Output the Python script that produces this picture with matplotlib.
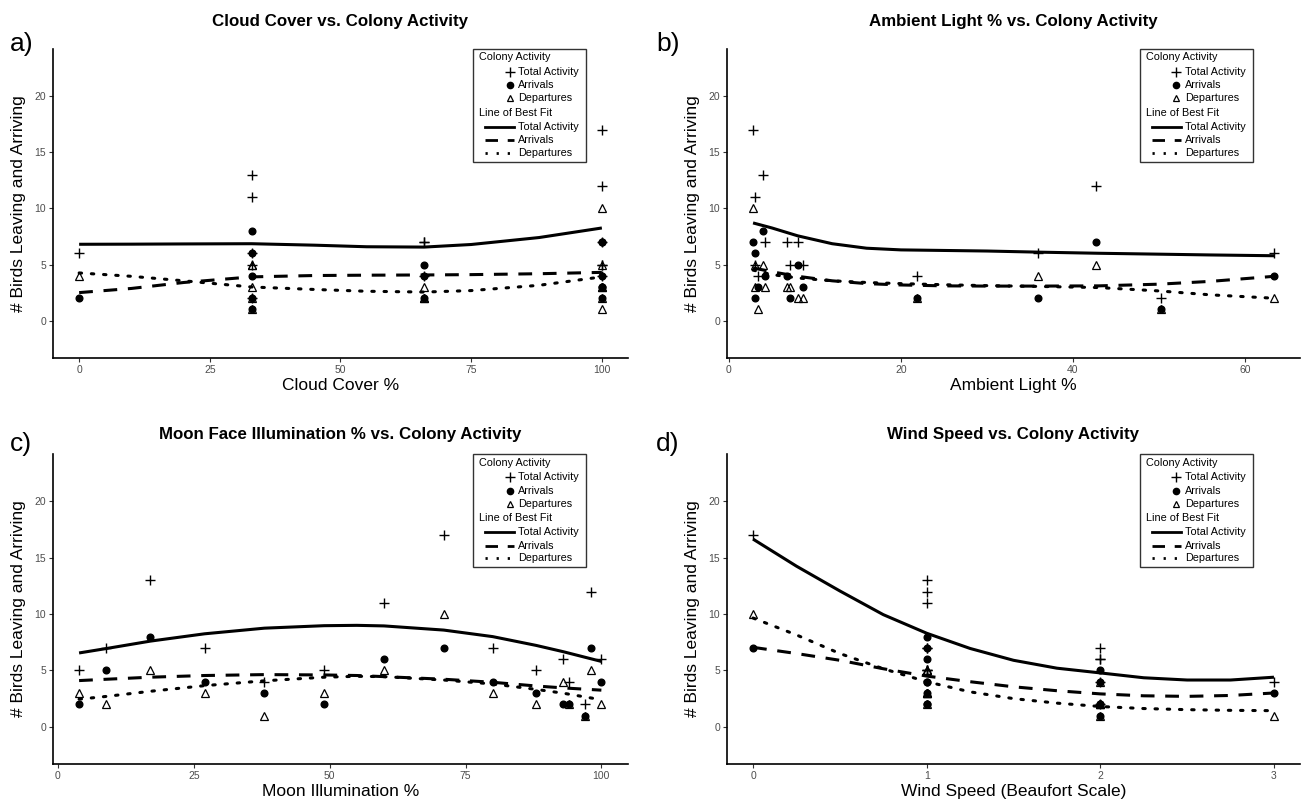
import numpy as np
import matplotlib
matplotlib.use("Agg")
import matplotlib.pyplot as plt
from matplotlib.lines import Line2D
from matplotlib.patches import Rectangle

plt.rcParams['font.family'] = ['Liberation Sans', 'DejaVu Sans']

# one entry per night of observation
moon = [3.9, 8.9, 16.9, 27.0, 38.0, 49.0, 60.0, 71.0, 80.0, 88.0, 93.0, 94.1, 97.0, 98.0, 100.0]
light = [3.0, 8.0, 4.0, 4.2, 3.35, 7.1, 3.0, 2.8, 6.8, 8.55, 35.9, 21.9, 50.2, 42.7, 63.4]
cloud = [33, 66, 33, 66, 100, 100, 33, 100, 100, 100, 0, 66, 33, 100, 33]
wind = [1, 2, 1, 1, 3, 1, 1, 0, 1, 1, 2, 2, 2, 1, 2]
total = [5, 7, 13, 7, 4, 5, 11, 17, 7, 5, 6, 4, 2, 12, 6]
arrivals = [2, 5, 8, 4, 3, 2, 6, 7, 4, 3, 2, 2, 1, 7, 4]
departures = [3, 2, 5, 3, 1, 3, 5, 10, 3, 2, 4, 2, 1, 5, 2]

# lines of best fit
a_fit_x = [0, 10, 20, 33, 45, 55, 66, 75, 88, 100]
a_fit_total = [6.80, 6.81, 6.83, 6.85, 6.72, 6.58, 6.55, 6.78, 7.40, 8.25]
a_fit_arr = [2.50, 2.87, 3.40, 3.90, 4.02, 4.05, 4.07, 4.10, 4.18, 4.30]
a_fit_dep = [4.25, 3.95, 3.55, 3.00, 2.78, 2.62, 2.55, 2.68, 3.15, 3.90]

b_fit_x = [2.8, 5, 8, 12, 16, 20, 25, 30, 36, 43, 50, 56, 63.4]
b_fit_total = [8.70, 8.25, 7.55, 6.85, 6.45, 6.30, 6.25, 6.20, 6.10, 6.00, 5.92, 5.85, 5.78]
b_fit_arr = [4.70, 4.35, 3.95, 3.55, 3.30, 3.18, 3.10, 3.08, 3.08, 3.10, 3.25, 3.50, 3.95]
b_fit_dep = [4.50, 4.10, 3.80, 3.55, 3.40, 3.30, 3.20, 3.12, 3.05, 2.95, 2.65, 2.30, 2.00]

c_fit_x = [3.9, 9, 17, 27, 38, 49, 55, 60, 71, 80, 88, 93, 100]
c_fit_total = [6.55, 6.95, 7.60, 8.25, 8.75, 8.97, 9.00, 8.95, 8.58, 8.00, 7.22, 6.66, 5.80]
c_fit_arr = [4.10, 4.22, 4.40, 4.55, 4.63, 4.60, 4.55, 4.45, 4.22, 3.95, 3.62, 3.45, 3.25]
c_fit_dep = [2.45, 2.70, 3.15, 3.65, 4.08, 4.40, 4.48, 4.45, 4.15, 3.80, 3.32, 2.98, 2.40]

d_fit_x = [0, 0.25, 0.5, 0.75, 1, 1.25, 1.5, 1.75, 2, 2.25, 2.5, 2.75, 3]
d_fit_total = [16.65, 14.25, 12.05, 9.95, 8.30, 6.95, 5.90, 5.20, 4.78, 4.35, 4.15, 4.15, 4.40]
d_fit_arr = [7.05, 6.50, 5.90, 5.15, 4.50, 4.00, 3.55, 3.20, 2.92, 2.75, 2.70, 2.78, 3.00]
d_fit_dep = [9.65, 8.15, 6.50, 5.15, 4.00, 3.10, 2.50, 2.10, 1.80, 1.62, 1.52, 1.46, 1.43]

W, H = 1301, 800
fig = plt.figure(figsize=(W / 100, H / 100), dpi=100)

DASH = (0, (4.5, 3.5))
DOT = (0, (0.8, 3.2))
GREY = '#4D4D4D'


def add_axes_px(left, top, right, bottom):
    return fig.add_axes([left / W, 1 - bottom / H, (right - left) / W, (bottom - top) / H])


def draw_legend(ax, cxf, cyf):
    # manual legend box, sizes in pixels
    bb = ax.get_position()
    aw, ah = bb.width * W, bb.height * H
    bw, bh = 113, 113
    cx, cy = cxf * aw, cyf * ah
    left, top = cx - bw / 2, cy + bh / 2

    def fx(p):
        return (left + p) / aw

    def fy(p):
        return (top - p) / ah

    ax.add_patch(Rectangle((fx(0), fy(bh)), bw / aw, bh / ah, transform=ax.transAxes,
                           facecolor='white', edgecolor='#333333', lw=1.0, zorder=5, clip_on=False))
    rows = [8.7, 23, 36.3, 49.7, 64, 78, 91.3, 104]
    fs = 7.8
    kw = dict(transform=ax.transAxes, fontsize=fs, va='center', ha='left', zorder=6, color='black')
    ax.text(fx(6), fy(rows[0]), 'Colony Activity', **kw)
    ax.text(fx(6), fy(rows[4]), 'Line of Best Fit', **kw)
    labels = ['Total Activity', 'Arrivals', 'Departures']
    mk = [dict(marker='+', ms=7, mew=1.0, color='black'),
          dict(marker='o', ms=4.5, color='black'),
          dict(marker='^', ms=5, mfc='none', mec='black', mew=0.9)]
    for i in range(3):
        ax.add_line(Line2D([fx(36.5)], [fy(rows[1 + i])], transform=ax.transAxes,
                           linestyle='none', zorder=6, clip_on=False, **mk[i]))
        ax.text(fx(45), fy(rows[1 + i]), labels[i], **kw)
    styles = ['-', DASH, DOT]
    for i in range(3):
        ax.add_line(Line2D([fx(12), fx(41)], [fy(rows[5 + i])] * 2, transform=ax.transAxes,
                           color='black', lw=2.0, linestyle=styles[i], zorder=6,
                           clip_on=False, dash_capstyle='butt'))
        ax.text(fx(45), fy(rows[5 + i]), labels[i], **kw)


def panel(ax, x, xlim, xticks, fit_x, fit_tot, fit_arr, fit_dep, title, xlabel, legx, tpad):
    ax.plot(x, total, linestyle='none', marker='+', ms=7.5, mew=1.0, color='black')
    ax.plot(x, arrivals, linestyle='none', marker='o', ms=4.8, color='black')
    ax.plot(x, departures, linestyle='none', marker='^', ms=5.2, mfc='none', mec='black', mew=0.9)
    ax.plot(fit_x, fit_tot, color='black', lw=2.2, solid_capstyle='butt')
    ax.plot(fit_x, fit_arr, color='black', lw=2.2, linestyle=DASH, dash_capstyle='butt')
    ax.plot(fit_x, fit_dep, color='black', lw=2.2, linestyle=DOT, dash_capstyle='round')
    ax.set_xlim(xlim)
    ax.set_ylim(-3.3, 24.2)
    ax.set_xticks(xticks)
    ax.set_yticks([0, 5, 10, 15, 20])
    for s in ['top', 'right']:
        ax.spines[s].set_visible(False)
    for s in ['left', 'bottom']:
        ax.spines[s].set_linewidth(1.2)
    ax.tick_params(labelsize=7.5, labelcolor=GREY, length=3, width=0.8, color='#333333', pad=2)
    ax.set_title(title, fontsize=12.2, fontweight='bold', pad=tpad)
    ax.set_xlabel(xlabel, fontsize=12.5, labelpad=2)
    ax.set_ylabel('# Birds Leaving and Arriving', fontsize=12.5, labelpad=6)
    draw_legend(ax, legx, 0.817)


ax_a = add_axes_px(53, 48.7, 628, 357.8)
ax_b = add_axes_px(727, 48.7, 1300, 357.8)
ax_c = add_axes_px(53, 454, 628, 764)
ax_d = add_axes_px(727, 454, 1300, 764)

panel(ax_a, cloud, (-5, 105), [0, 25, 50, 75, 100], a_fit_x, a_fit_total, a_fit_arr, a_fit_dep,
      'Cloud Cover vs. Colony Activity', 'Cloud Cover %', 0.829, 16)
panel(ax_b, light, (-0.23, 66.4), [0, 20, 40, 60], b_fit_x, b_fit_total, b_fit_arr, b_fit_dep,
      'Ambient Light % vs. Colony Activity', 'Ambient Light %', 0.819, 16)
panel(ax_c, moon, (-0.9, 104.9), [0, 25, 50, 75, 100], c_fit_x, c_fit_total, c_fit_arr, c_fit_dep,
      'Moon Face Illumination % vs. Colony Activity', 'Moon Illumination %', 0.829, 11)
panel(ax_d, wind, (-0.15, 3.15), [0, 1, 2, 3], d_fit_x, d_fit_total, d_fit_arr, d_fit_dep,
      'Wind Speed vs. Colony Activity', 'Wind Speed (Beaufort Scale)', 0.819, 11)

for tag, (tx, ty) in zip(['a)', 'b)', 'c)', 'd)'], [(10, 44), (656, 44), (10, 444), (656, 444)]):
    fig.text(tx / W, 1 - ty / H, tag, fontsize=19, ha='left', va='center')

fig.savefig('out.png', dpi=100, facecolor='white')
